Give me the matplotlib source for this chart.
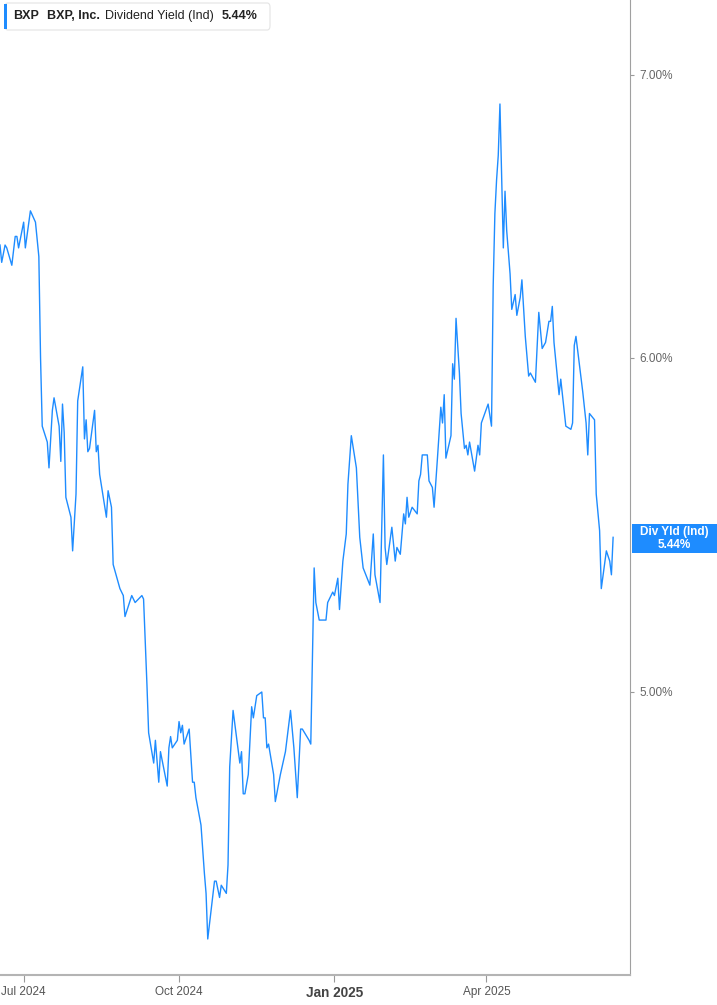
import numpy as np
import matplotlib
matplotlib.use('Agg')
import matplotlib.pyplot as plt
from matplotlib.patches import FancyBboxPatch, Rectangle
from matplotlib.ticker import NullLocator, FixedLocator

# days since 2024-06-17 and dividend yield (%)
start_date = '2024-06-17'
day_num = [0, 1, 3, 4, 7, 9, 10, 11, 14, 15, 18, 21, 22, 23, 24, 25, 28, 29, 31, 32,
           35, 36, 37, 38, 39, 42, 43, 45, 46, 49, 50, 51, 52, 53, 56, 57, 58, 59, 63, 64,
           66, 67, 71, 73, 74, 78, 80, 84, 85, 87, 88, 91, 92, 94, 95, 99, 100, 101, 102, 105,
           106, 107, 108, 109, 112, 114, 115, 116, 119, 121, 122, 123, 125, 127, 128, 130, 131, 134, 135, 136,
           138, 140, 142, 143, 144, 145, 147, 149, 150, 152, 155, 156, 157, 158, 159, 162, 163, 166, 169, 172,
           174, 176, 178, 179, 183, 184, 186, 187, 189, 193, 194, 197, 198, 200, 201, 203, 205, 206, 208, 211,
           213, 215, 219, 221, 222, 225, 227, 228, 229, 232, 234, 235, 237, 239, 240, 241, 242, 244, 247, 248,
           249, 250, 253, 254, 256, 257, 259, 261, 262, 263, 264, 267, 268, 269, 270, 272, 273, 275, 276, 277,
           278, 281, 283, 284, 285, 289, 291, 292, 293, 294, 295, 296, 298, 299, 300, 302, 303, 305, 306, 308,
           309, 311, 313, 314, 317, 319, 321, 323, 325, 326, 327, 328, 331, 332, 335, 338, 339, 340, 341, 345,
           347, 348, 349, 352, 353, 355, 356, 359, 361, 362, 363]
div_yield = [6.38, 6.32, 6.38, 6.37, 6.31, 6.41, 6.41, 6.37, 6.46, 6.37, 6.50, 6.46, 6.40, 6.34, 6.00, 5.78, 5.73, 5.65, 5.83, 5.87,
             5.78, 5.67, 5.85, 5.76, 5.56, 5.50, 5.40, 5.57, 5.86, 5.97, 5.74, 5.80, 5.70, 5.71, 5.83, 5.70, 5.72, 5.63, 5.50, 5.58,
             5.53, 5.36, 5.29, 5.27, 5.21, 5.27, 5.25, 5.27, 5.26, 5.02, 4.89, 4.81, 4.87, 4.76, 4.84, 4.75, 4.85, 4.88, 4.85, 4.87,
             4.92, 4.89, 4.91, 4.86, 4.90, 4.76, 4.76, 4.72, 4.65, 4.53, 4.48, 4.37, 4.44, 4.51, 4.51, 4.47, 4.50, 4.48, 4.55, 4.80,
             4.95, 4.88, 4.81, 4.84, 4.73, 4.73, 4.78, 4.96, 4.93, 4.99, 5.00, 4.93, 4.93, 4.85, 4.86, 4.78, 4.71, 4.78, 4.84, 4.95,
             4.85, 4.72, 4.90, 4.90, 4.87, 4.86, 5.35, 5.25, 5.20, 5.20, 5.25, 5.28, 5.27, 5.32, 5.23, 5.37, 5.45, 5.60, 5.75, 5.65,
             5.44, 5.35, 5.30, 5.45, 5.33, 5.25, 5.69, 5.41, 5.36, 5.47, 5.37, 5.41, 5.39, 5.51, 5.48, 5.56, 5.50, 5.53, 5.51, 5.61,
             5.63, 5.69, 5.69, 5.61, 5.59, 5.53, 5.68, 5.84, 5.79, 5.88, 5.68, 5.75, 5.98, 5.93, 6.13, 5.95, 5.82, 5.71, 5.72, 5.69,
             5.73, 5.64, 5.72, 5.69, 5.79, 5.85, 5.78, 6.24, 6.49, 6.61, 6.70, 6.89, 6.37, 6.57, 6.43, 6.28, 6.16, 6.21, 6.14, 6.20,
             6.26, 6.07, 5.94, 5.95, 5.92, 6.15, 6.03, 6.05, 6.12, 6.12, 6.17, 6.05, 5.88, 5.93, 5.78, 5.77, 5.79, 6.04, 6.07, 5.89,
             5.79, 5.69, 5.82, 5.80, 5.57, 5.46, 5.29, 5.40, 5.37, 5.33, 5.44]

tick_dates = ['2024-07-01', '2024-10-01', '2025-01-01', '2025-04-01']
tick_labels = ['Jul 2024', 'Oct 2024', 'Jan 2025', 'Apr 2025']
y_ticks = [5, 6, 7]

line_blue = '#1e8cff'
W, H = 717, 1005
plt.rcParams['font.family'] = ['Liberation Sans', 'DejaVu Sans']

dates = np.datetime64(start_date) + np.array(day_num).astype('timedelta64[D]')

fig = plt.figure(figsize=(W / 100, H / 100), dpi=100)
ax = fig.add_axes([0, 1 - 975 / H, 630 / W, 975 / H])

ax.plot(dates, div_yield, color=line_blue, lw=1.0)

ax.set_yscale('log')
ax.set_ylim(4.285, 7.292)
ax.yaxis.set_major_locator(FixedLocator(y_ticks))
ax.yaxis.set_minor_locator(NullLocator())
ax.set_yticklabels(['%.2f%%' % v for v in y_ticks])
ax.yaxis.tick_right()

x0 = np.datetime64(start_date)
ax.set_xlim(x0, x0 + np.timedelta64(373, 'D'))
ax.set_xticks([np.datetime64(d) for d in tick_dates])
ax.set_xticklabels(tick_labels)
ax.xaxis.set_minor_locator(NullLocator())

for s in ['left', 'top']:
    ax.spines[s].set_visible(False)
ax.spines['right'].set_color('#a0a0a0')
ax.spines['bottom'].set_color('#b4b4b4')
ax.spines['bottom'].set_linewidth(1.5)

ax.tick_params(axis='x', length=5, color='#999999', labelcolor='#555555',
               labelsize=8.5, pad=3)
ax.tick_params(axis='y', length=3, color='#999999', labelcolor='#666666',
               labelsize=8.5, pad=4)
for lbl in ax.get_xticklabels():
    if lbl.get_text() == 'Jan 2025':
        lbl.set_fontweight('bold')
        lbl.set_fontsize(9.8)
        lbl.set_color('#444444')

# header legend box (pixel placement)
def fx(px):
    return px / W

def fy(py):
    return 1 - py / H

box = FancyBboxPatch((fx(5), fy(30)), fx(265), 27 / H, boxstyle='round,pad=0,rounding_size=0.004',
                     transform=fig.transFigure, facecolor='white', edgecolor='#e4e4e4', lw=0.8)
fig.patches.append(box)
fig.patches.append(Rectangle((fx(4), fy(29)), fx(3), 25 / H, transform=fig.transFigure,
                             facecolor=line_blue, edgecolor='none'))
hdr = dict(fontsize=9, color='#222222', va='center')
fig.text(fx(13), fy(16), 'BXP', fontweight='bold', **hdr)
fig.text(fx(47), fy(16), 'BXP, Inc.', fontweight='bold', **hdr)
fig.text(fx(105), fy(16), 'Dividend Yield (Ind)', **hdr)
fig.text(fx(222), fy(16), '5.44%', fontweight='bold', **hdr)

# last value badge on the right axis
fig.patches.append(Rectangle((fx(632), fy(553)), fx(85), 29 / H, transform=fig.transFigure,
                             facecolor=line_blue, edgecolor='none'))
fig.text(fx(674), fy(532), 'Div Yld (Ind)', fontsize=8.5, fontweight='bold', color='white',
         ha='center', va='center')
fig.text(fx(674), fy(545), '5.44%', fontsize=8.5, fontweight='bold', color='white',
         ha='center', va='center')

plt.savefig('out.png', dpi=100)
